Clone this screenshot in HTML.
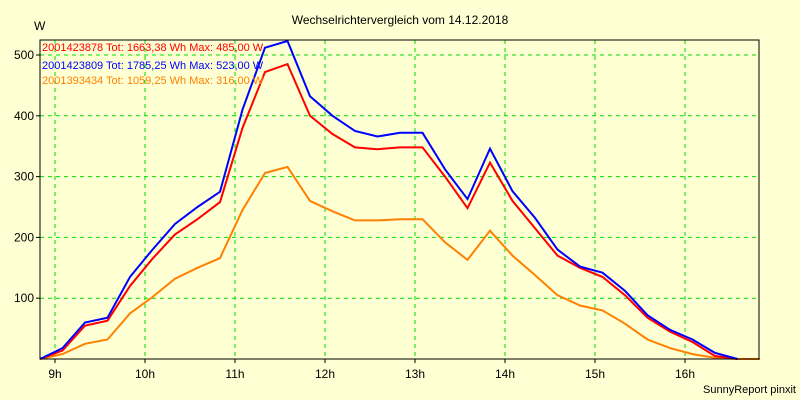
<!DOCTYPE html>
<html><head><meta charset="utf-8"><style>
html,body{margin:0;padding:0;background:#ffffd4;}
svg{display:block;font-family:"Liberation Sans",sans-serif;}
</style></head><body>
<svg id="chart" width="800" height="400" viewBox="0 0 800 400" xmlns="http://www.w3.org/2000/svg">
<rect x="0" y="0" width="800" height="400" fill="#ffffd4"/>
<text x="400" y="24" text-anchor="middle" font-size="12" fill="#000">Wechselrichtervergleich vom 14.12.2018</text>
<text x="34" y="30" font-size="12" fill="#000">W</text>
<g id="grid"></g>
<g id="series"></g>
<rect x="40" y="40" width="719" height="319" fill="none" stroke="#000" stroke-width="1"/>
<g id="axes"></g>
<g font-size="11">
<text x="42" y="51" fill="#ff0000">2001423878 Tot: 1663,38 Wh Max: 485,00 W</text>
<text x="42" y="69" fill="#0000ff">2001423809 Tot: 1785,25 Wh Max: 523,00 W</text>
<text x="42" y="84" fill="#ff8000">2001393434 Tot: 1059,25 Wh Max: 316,00 W</text>
</g>
<text x="796" y="393" text-anchor="end" font-size="11" fill="#000">SunnyReport pinxit</text>
</svg>
<script>
const hourTicks = [9,10,11,12,13,14,15,16];
const hourLabels = ["9h","10h","11h","12h","13h","14h","15h","16h"];
const yTicks = [100,200,300,400,500];
const times = [8.833,9.083,9.333,9.583,9.833,10.083,10.333,10.583,10.833,11.083,11.333,11.583,11.833,12.083,12.333,12.583,12.833,13.083,13.333,13.583,13.833,14.083,14.333,14.583,14.833,15.083,15.333,15.583,15.833,16.083,16.333,16.583,16.833];
const blueVals = [0,18,60,68,135,180,222,250,275,410,512,523,432,400,375,366,372,372,312,263,346,276,232,180,152,142,112,72,48,32,10,0];
const redVals = [0,14,55,63,120,165,205,230,258,380,472,485,400,370,348,345,348,348,300,248,323,260,215,170,150,135,105,68,45,28,5,0];
const orangeVals = [0,8,25,32,75,102,132,150,166,245,306,316,260,243,228,228,230,230,192,163,211,170,138,105,88,80,58,32,18,8,2,0,0];
const NS="http://www.w3.org/2000/svg";
const xs = h => 55 + (h-9)*90;
const ys = v => 359 - v*0.608;
const grid=document.getElementById('grid'), axes=document.getElementById('axes'), series=document.getElementById('series');
hourTicks.forEach((h,i)=>{
  const l=document.createElementNS(NS,'line');
  l.setAttribute('x1',xs(h));l.setAttribute('x2',xs(h));l.setAttribute('y1',40);l.setAttribute('y2',359);
  l.setAttribute('stroke','#00dd00');l.setAttribute('stroke-dasharray','4,4');
  
  
  grid.appendChild(l);
  const tk=document.createElementNS(NS,'line');
  tk.setAttribute('x1',xs(h));tk.setAttribute('x2',xs(h));tk.setAttribute('y1',359);tk.setAttribute('y2',363);tk.setAttribute('stroke','#000');
  
  
  axes.appendChild(tk);
  const t=document.createElementNS(NS,'text');
  t.setAttribute('x',xs(h));t.setAttribute('y',378);t.setAttribute('text-anchor','middle');t.setAttribute('font-size','12');
  t.textContent=hourLabels[i];
  
  
  axes.appendChild(t);
});
yTicks.forEach(v=>{
  const l=document.createElementNS(NS,'line');
  l.setAttribute('x1',40);l.setAttribute('x2',759);l.setAttribute('y1',ys(v));l.setAttribute('y2',ys(v));
  l.setAttribute('stroke','#00dd00');l.setAttribute('stroke-dasharray','4,4');
  
  
  grid.appendChild(l);
  const tk=document.createElementNS(NS,'line');
  tk.setAttribute('x1',36);tk.setAttribute('x2',40);tk.setAttribute('y1',ys(v));tk.setAttribute('y2',ys(v));tk.setAttribute('stroke','#000');
  
  
  axes.appendChild(tk);
  const t=document.createElementNS(NS,'text');
  t.setAttribute('x',34);t.setAttribute('y',ys(v)+4);t.setAttribute('text-anchor','end');t.setAttribute('font-size','12');
  t.textContent=v;
  
  
  axes.appendChild(t);
});
function drawLine(vals,color,name){
  const p=document.createElementNS(NS,'polyline');
  p.setAttribute('points',vals.map((v,i)=>xs(times[i]).toFixed(1)+','+ys(v).toFixed(1)).join(' '));
  p.setAttribute('fill','none');p.setAttribute('stroke',color);p.setAttribute('stroke-width','2');
  
  
  series.appendChild(p);
}
drawLine(orangeVals,'#ff8000','series-2001393434');
drawLine(redVals,'#ff0000','series-2001423878');
drawLine(blueVals,'#0000ff','series-2001423809');
</script>
</body></html>
